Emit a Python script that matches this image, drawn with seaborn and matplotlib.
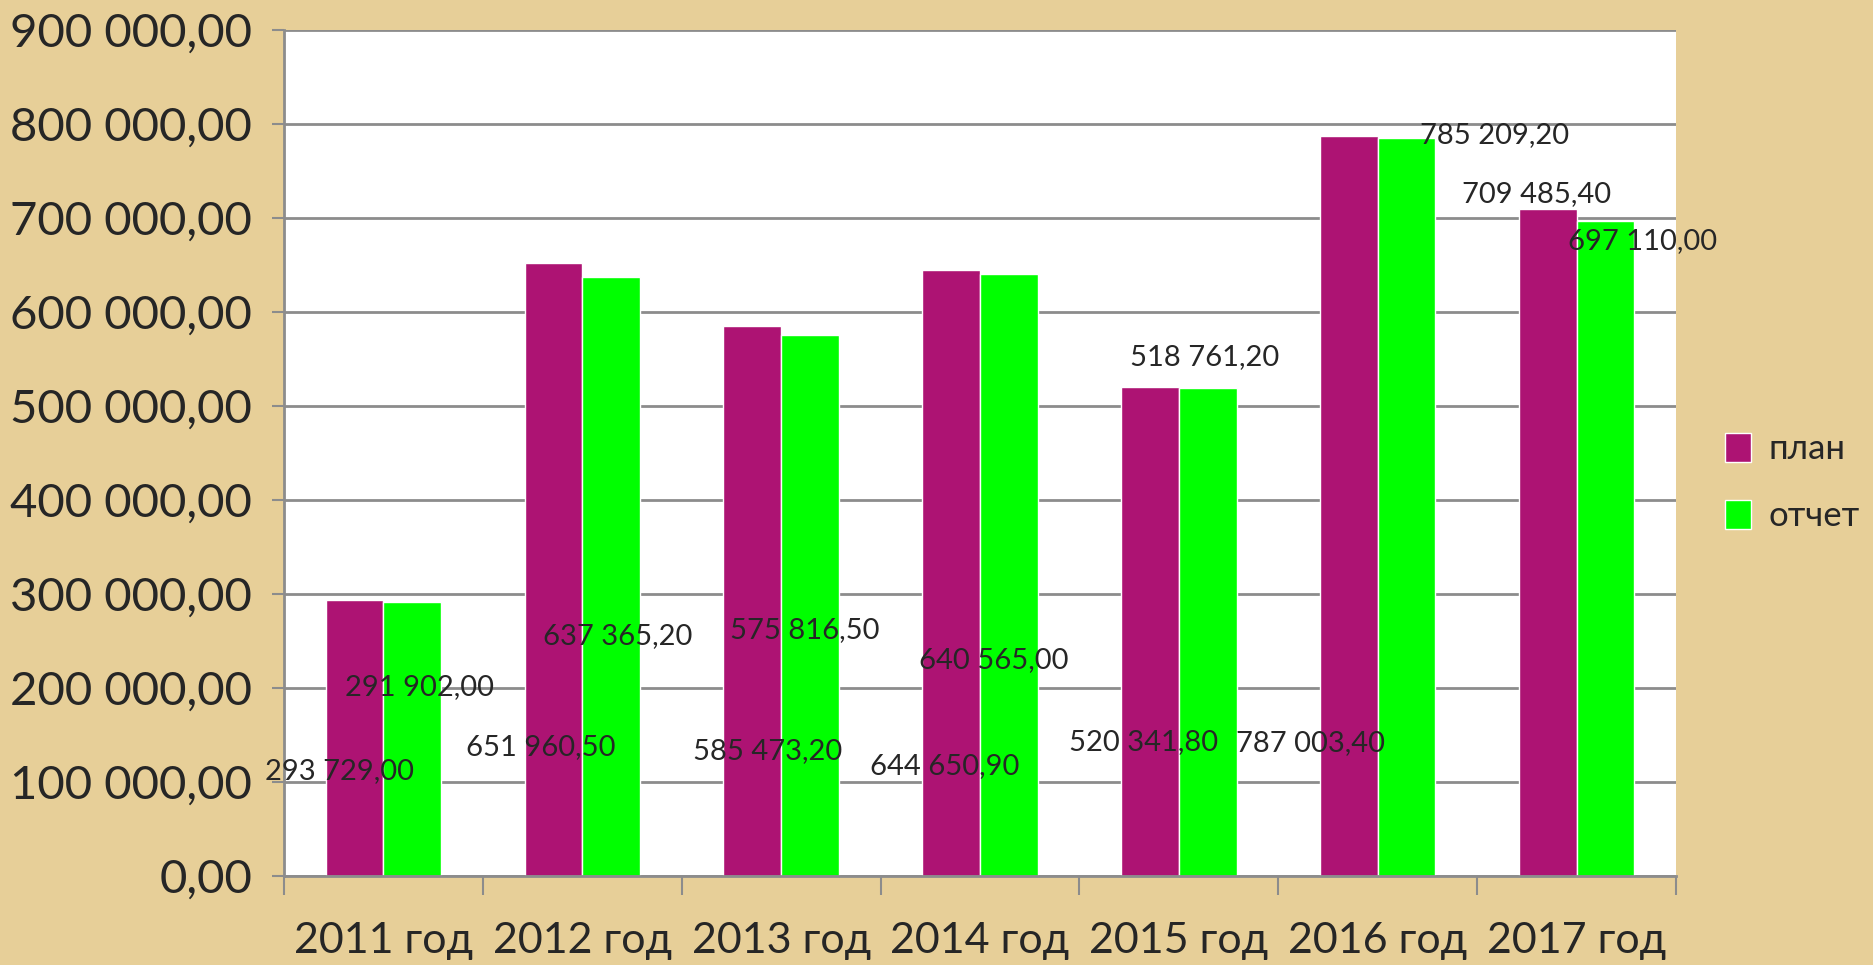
import numpy as np
import pandas as pd
import matplotlib.pyplot as plt
import seaborn as sns

# data
years = ['2011 год', '2012 год', '2013 год', '2014 год', '2015 год', '2016 год', '2017 год']
plan = [293729.00, 651960.50, 585473.20, 644650.90, 520341.80, 787003.40, 709485.40]
otchet = [291902.00, 637365.20, 575816.50, 640565.00, 518761.20, 785209.20, 697110.00]
series = ['план', 'отчет']
colors = ['#AD1373', '#00FF00']

# where the (hand-moved) data labels sit: x offset from category, y in data units
plan_lbl = [(-0.22, 112000), (-0.21, 137000), (-0.07, 133000), (-0.18, 117000),
            (-0.18, 142000), (-0.34, 141000), (-0.20, 726000)]
otchet_lbl = [(0.18, 201000), (0.18, 255000), (0.12, 262000), (0.07, 230000),
              (0.13, 552000), (0.59, 788000), (0.33, 675000)]

df = pd.DataFrame({
    'year': years * 2,
    'value': plan + otchet,
    'series': [series[0]] * len(years) + [series[1]] * len(years),
})

sns.set_style('white')
plt.rcParams['font.family'] = ['Lato', 'DejaVu Sans']

fig = plt.figure(figsize=(18.74, 9.65), dpi=100)
fig.patch.set_facecolor('#E7CF98')
ax = fig.add_axes([284 / 1874, 1 - 876 / 965, (1676 - 284) / 1874, (876 - 30) / 965])
ax.set_facecolor('white')

sns.barplot(data=df, x='year', y='value', hue='series', palette=colors,
            width=0.58, gap=0, saturation=1, ax=ax, legend=True)

ax.set_ylim(0, 900000)
ax.set_xlim(-0.5, len(years) - 0.5)
ax.set_yticks(np.arange(0, 900001, 100000))
ax.set_yticklabels([f'{int(v):,}'.replace(',', ' ') + ',00' for v in ax.get_yticks()],
                   fontsize=34)
ax.yaxis.grid(True, color='#8C8C8C', linewidth=2)
ax.set_axisbelow(True)
ax.set_xlabel('')
ax.set_ylabel('')
ax.set_xticks(np.arange(-0.5, len(years), 1), minor=True)
ax.tick_params(axis='x', which='both', bottom=True)
ax.tick_params(axis='x', which='major', length=0, labelsize=31, pad=33)
ax.tick_params(axis='x', which='minor', length=14, width=1.5, color='#8C8C8C', direction='out')
ax.tick_params(axis='y', left=True, length=9, width=1.5, color='#8C8C8C', direction='out', pad=14)
for s in ['left', 'bottom']:
    ax.spines[s].set_color('#8C8C8C')
    ax.spines[s].set_linewidth(2)
for s in ['top', 'right']:
    ax.spines[s].set_visible(False)


def fmt(v):
    whole = int(v)
    frac = round((v - whole) * 100)
    return f'{whole:,}'.replace(',', ' ') + f',{frac:02d}'


for i in range(len(years)):
    dx, y = plan_lbl[i]
    ax.text(i + dx, y, fmt(plan[i]), ha='center', va='center', fontsize=21, clip_on=False)
    dx, y = otchet_lbl[i]
    ax.text(i + dx, y, fmt(otchet[i]), ha='center', va='center', fontsize=21, clip_on=False)

leg = ax.legend(loc='center left', bbox_to_anchor=(1.013, 0.465), frameon=False,
                fontsize=25, handlelength=0.75, handleheight=0.9, handletextpad=0.5,
                labelspacing=1.0)

fig.savefig('out.png', dpi=100, facecolor=fig.get_facecolor())
